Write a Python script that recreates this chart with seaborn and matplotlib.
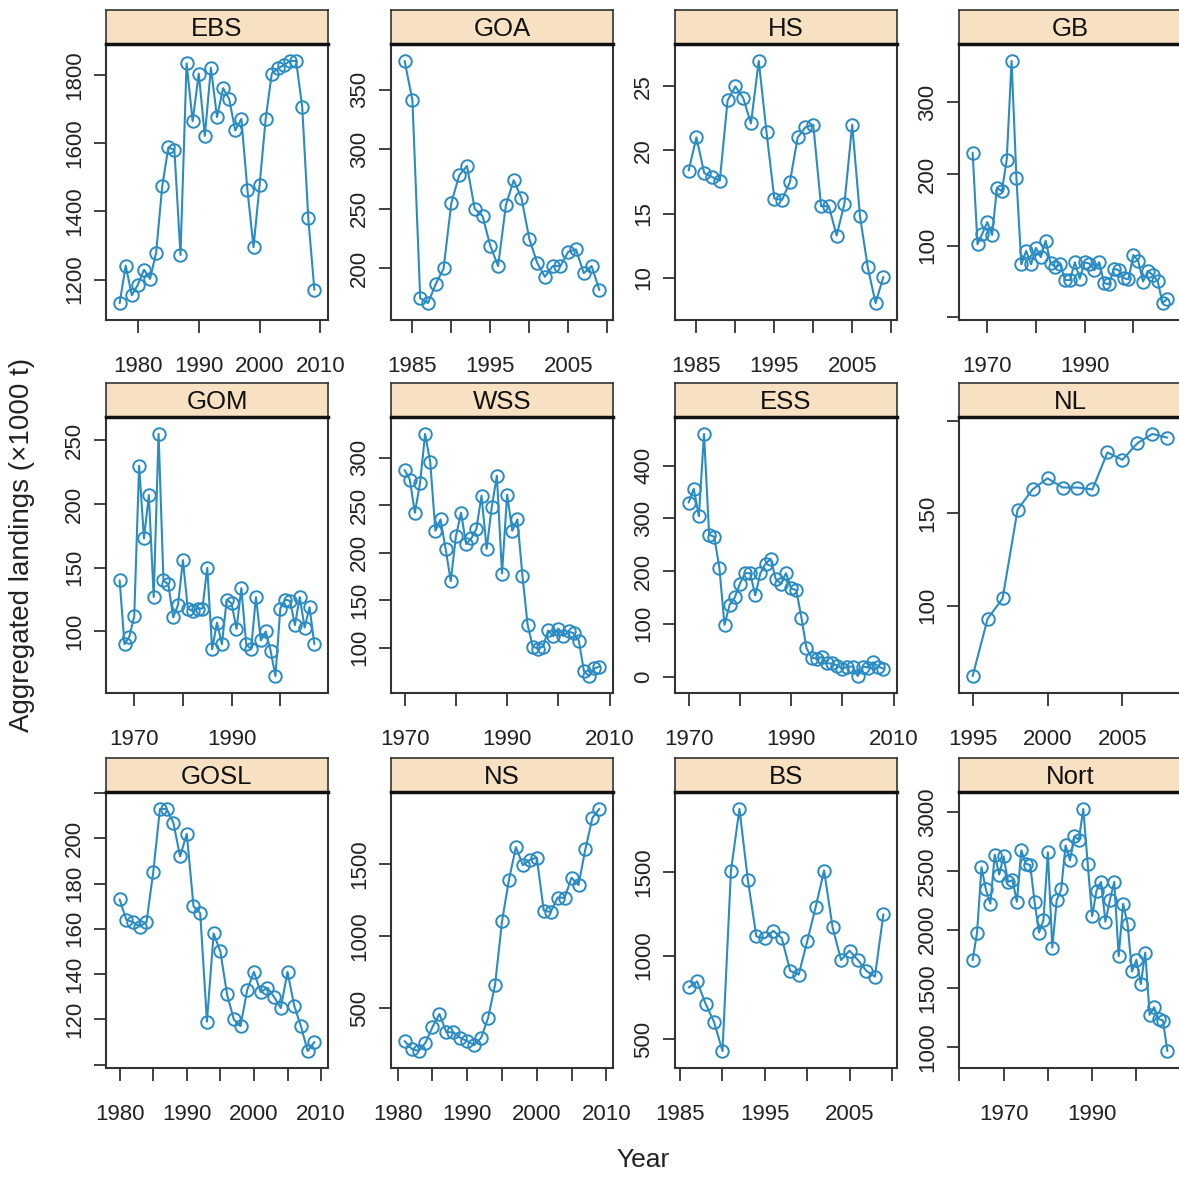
import numpy as np
import pandas as pd
import seaborn as sns
import matplotlib.pyplot as plt

sns.set_theme(style="white")
plt.rcParams['font.family'] = ['Liberation Sans', 'DejaVu Sans']

# landings (x1000 t), one value per year
ebs_years = list(range(1977, 2010))
ebs = [1131, 1241, 1154, 1185, 1229, 1202, 1279, 1474, 1588, 1581, 1272, 1835, 1665, 1805, 1622,
       1822, 1677, 1762, 1730, 1638, 1672, 1463, 1295, 1478, 1672, 1805, 1820, 1830, 1842, 1842,
       1707, 1380, 1170]

goa_years = list(range(1984, 2010))
goa = [374, 341, 175, 171, 187, 200, 255, 278, 286, 250, 244, 219, 202, 253, 274, 259, 225, 205,
       193, 202, 202, 214, 216, 196, 202, 182]

hs_years = list(range(1984, 2010))
hs = [18.4, 21.0, 18.2, 17.9, 17.6, 23.9, 25.0, 24.1, 22.1, 27.0, 21.4, 16.2, 16.1, 17.5, 21.0,
      21.8, 22.0, 15.6, 15.6, 13.3, 15.8, 22.0, 14.8, 10.8, 8.0, 10.05]

gb_years = list(range(1967, 2008))
gb = [230, 102, 117, 133, 115, 181, 176, 220, 358, 194, 74, 93, 74, 97, 84, 107, 76, 70, 74, 52,
      52, 77, 54, 77, 75, 66, 77, 48, 46, 68, 66, 55, 53, 87, 79, 50, 65, 59, 51, 20, 26]

gom_years = list(range(1967, 2008))
gom = [140, 90, 96, 112, 230, 173, 207, 127, 255, 140, 137, 111, 121, 156, 118, 116, 118, 118,
       150, 86, 107, 90, 125, 122, 102, 134, 90, 86, 127, 93, 100, 85, 65, 118, 125, 124, 105,
       127, 103, 119, 90]

wss_years = list(range(1970, 2009))
wss = [287, 277, 242, 273, 325, 295, 223, 235, 204, 170, 217, 242, 209, 215, 225, 260, 204, 248,
       281, 178, 261, 223, 235, 175, 124, 101, 99, 101, 118, 112, 120, 112, 117, 115, 107, 75,
       70, 78, 80]

ess_years = list(range(1970, 2009))
ess = [330, 356, 304, 460, 269, 265, 206, 98, 136, 150, 176, 196, 196, 154, 196, 214, 223, 185,
       176, 196, 167, 164, 112, 54, 36, 34, 37, 25, 25, 21, 15, 19, 19, 1, 19, 17, 27, 19, 15]

nl_years = list(range(1995, 2009))
nl = [62, 93, 104, 152, 163, 169, 164, 164, 163, 183, 179, 188, 193, 191]

gosl_years = list(range(1980, 2010))
gosl = [173, 164, 163, 161, 163, 185, 213, 213, 207, 192, 202, 170, 167, 119, 158, 150, 131, 120,
        117, 133, 141, 132, 134, 130, 125, 141, 126, 117, 106, 110]

ns_years = list(range(1981, 2010))
ns = [270, 217, 201, 259, 367, 459, 332, 332, 293, 270, 243, 293, 431, 661, 1102, 1392, 1619,
      1493, 1530, 1546, 1178, 1167, 1268, 1266, 1406, 1355, 1608, 1822, 1884]

bs_years = list(range(1986, 2010))
bs = [809, 845, 712, 603, 429, 1508, 1876, 1450, 1114, 1102, 1148, 1104, 908, 886, 1084, 1289,
      1508, 1169, 973, 1029, 973, 908, 874, 1246]

nort_years = list(range(1963, 2008))
nort = [1740, 1975, 2531, 2342, 2220, 2638, 2469, 2624, 2407, 2421, 2237, 2675, 2562, 2551, 2237,
        1975, 2082, 2658, 1847, 2251, 2342, 2718, 2590, 2794, 2765, 3028, 2562, 2116, 2333, 2407,
        2068, 2251, 2407, 1774, 2220, 2051, 1644, 1743, 1537, 1805, 1274, 1339, 1240, 1226, 966]

regions = ["EBS", "GOA", "HS", "GB", "GOM", "WSS", "ESS", "NL", "GOSL", "NS", "BS", "Nort"]
series = [(ebs_years, ebs), (goa_years, goa), (hs_years, hs), (gb_years, gb),
          (gom_years, gom), (wss_years, wss), (ess_years, ess), (nl_years, nl),
          (gosl_years, gosl), (ns_years, ns), (bs_years, bs), (nort_years, nort)]

# tick positions and the labels lattice kept (blank = tick without label)
x_ticks = [
    [1980, 1990, 2000, 2010], [1985, 1990, 1995, 2000, 2005, 2010],
    [1985, 1990, 1995, 2000, 2005, 2010], [1970, 1980, 1990, 2000],
    [1970, 1980, 1990, 2000], [1970, 1980, 1990, 2000, 2010],
    [1970, 1980, 1990, 2000, 2010], [1995, 2000, 2005],
    [1980, 1985, 1990, 1995, 2000, 2005, 2010], [1980, 1985, 1990, 1995, 2000, 2005, 2010],
    [1985, 1990, 1995, 2000, 2005, 2010], [1960, 1970, 1980, 1990, 2000]]
x_labels = [
    ["1980", "1990", "2000", "2010"], ["1985", "", "1995", "", "2005", ""],
    ["1985", "", "1995", "", "2005", ""], ["1970", "", "1990", ""],
    ["1970", "", "1990", ""], ["1970", "", "1990", "", "2010"],
    ["1970", "", "1990", "", "2010"], ["1995", "2000", "2005"],
    ["1980", "", "1990", "", "2000", "", "2010"], ["1980", "", "1990", "", "2000", "", "2010"],
    ["1985", "", "1995", "", "2005", ""], ["", "1970", "", "1990", ""]]
y_ticks = [
    [1200, 1400, 1600, 1800], [200, 250, 300, 350], [10, 15, 20, 25], [0, 100, 200, 300],
    [100, 150, 200, 250], [100, 150, 200, 250, 300], [0, 100, 200, 300, 400], [100, 150, 200],
    [100, 120, 140, 160, 180, 200, 220], [500, 1000, 1500], [500, 1000, 1500],
    [1000, 1500, 2000, 2500, 3000]]
y_labels = [
    ["1200", "1400", "1600", "1800"], ["200", "250", "300", "350"], ["10", "15", "20", "25"],
    ["", "100", "200", "300"], ["100", "150", "200", "250"], ["100", "150", "200", "250", "300"],
    ["0", "100", "200", "300", "400"], ["100", "150", ""],
    ["", "120", "140", "160", "180", "200", ""], ["500", "1000", "1500"], ["500", "1000", "1500"],
    ["1000", "1500", "2000", "2500", "3000"]]

line_col = '#2b8bc3'
strip_col = '#f7e1c2'

W, H = 1179, 1178
fig = plt.figure(figsize=(W / 100, H / 100), dpi=100)
col_left = [106, 391, 675, 959]
row_top = [44, 417, 792]
pw, ph, sh = 222, 276, 34

for i, name in enumerate(regions):
    r, c = divmod(i, 4)
    x0, y0 = col_left[c], row_top[r]
    ax = fig.add_axes([x0 / W, 1 - (y0 + ph) / H, pw / W, ph / H])
    yrs, vals = series[i]
    df = pd.DataFrame({'Year': yrs, 'Landings': vals})
    sns.lineplot(data=df, x='Year', y='Landings', ax=ax, color=line_col, lw=1.5,
                 marker='o', markersize=9, markerfacecolor='none',
                 markeredgecolor=line_col, markeredgewidth=1.4, estimator=None)
    # lattice pads the data range by 7 %
    xr = max(yrs) - min(yrs)
    ax.set_xlim(min(yrs) - 0.07 * xr, max(yrs) + 0.07 * xr)
    vr = max(vals) - min(vals)
    ax.set_ylim(min(vals) - 0.07 * vr, max(vals) + 0.07 * vr)
    ax.set_xticks(x_ticks[i])
    ax.set_xticklabels(x_labels[i])
    ax.set_yticks(y_ticks[i])
    ax.set_yticklabels(y_labels[i], rotation=90, va='center')
    ax.tick_params(direction='out', length=9, width=1.3, labelsize=16,
                   colors='#333333', labelcolor='#222222', bottom=True, left=True)
    ax.tick_params(axis='x', pad=17)
    ax.tick_params(axis='y', pad=6)
    ax.set_xlabel('')
    ax.set_ylabel('')
    for s in ax.spines.values():
        s.set_linewidth(1.5)
        s.set_color('#333333')

    sax = fig.add_axes([x0 / W, 1 - y0 / H, pw / W, sh / H])
    sax.set_facecolor(strip_col)
    sax.set_xticks([])
    sax.set_yticks([])
    for s in sax.spines.values():
        s.set_linewidth(1.2)
        s.set_color('#333333')
    sax.spines['bottom'].set_linewidth(2.5)
    sax.spines['bottom'].set_color('#111111')
    sax.text(0.5, 0.45, name, ha='center', va='center', fontsize=18.5, color='#111111',
             transform=sax.transAxes)

fig.text(643 / W, 1 - 1160 / H, 'Year', ha='center', va='center', fontsize=19, color='#222222')
fig.text(22 / W, 1 - 545 / H, 'Aggregated landings (\u00d71000 t)', ha='center', va='center',
         rotation=90, fontsize=20, color='#222222')

fig.savefig('out.png', dpi=100)
